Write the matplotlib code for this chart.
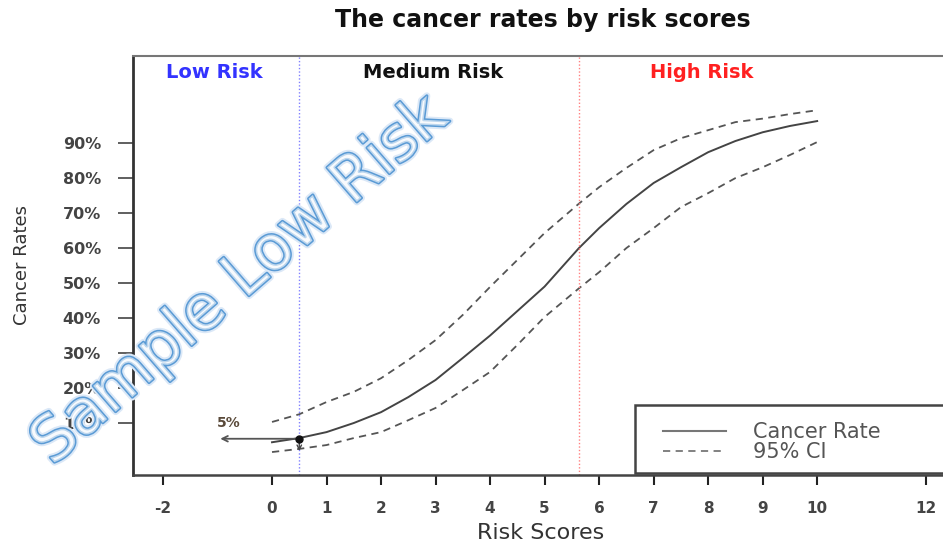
import matplotlib
matplotlib.use("Agg")
import matplotlib.pyplot as plt
import matplotlib.patheffects as pe
from matplotlib.patches import Rectangle
from matplotlib.lines import Line2D

# ---- data ----
scores = [0, 0.5, 1, 1.5, 2, 2.5, 3, 3.5, 4, 4.5, 5, 5.63, 6, 6.5, 7, 7.5, 8, 8.5, 9, 9.5, 10]
rate   = [0.045, 0.057, 0.074, 0.10, 0.131, 0.174, 0.223, 0.286, 0.35, 0.42, 0.49, 0.60,
          0.657, 0.726, 0.786, 0.831, 0.874, 0.906, 0.931, 0.949, 0.963]
upper  = [0.103, 0.125, 0.16, 0.189, 0.228, 0.28, 0.337, 0.409, 0.489, 0.566, 0.643, 0.727,
          0.774, 0.829, 0.88, 0.914, 0.937, 0.96, 0.97, 0.983, 0.994]
lower  = [0.017, 0.026, 0.037, 0.057, 0.074, 0.108, 0.143, 0.194, 0.246, 0.323, 0.403, 0.485,
          0.531, 0.60, 0.657, 0.717, 0.757, 0.80, 0.831, 0.866, 0.903]

x_ticks = [-2, 0, 1, 2, 3, 4, 5, 6, 7, 8, 9, 10, 12]
y_ticks = [0.1, 0.2, 0.3, 0.4, 0.5, 0.6, 0.7, 0.8, 0.9]
y_tick_labels = ["10%", "20%", "30%", "40%", "50%", "60%", "70%", "80%", "90%"]

low_cut, high_cut = 0.5, 5.63
point_x, point_y = 0.5, 0.055
arrow_end_x = -1.0
point_label = "5%"

regions = ["Low Risk", "Medium Risk", "High Risk"]
region_x = [-1.05, 2.95, 7.89]
region_colors = ["#3333ff", "#111111", "#ff2020"]

title = "The cancer rates by risk scores"
xlabel = "Risk Scores"
ylabel = "Cancer Rates"
legend_labels = ["Cancer Rate", "95% CI"]
watermark = "Sample Low Risk"

# ---- figure ----
W, H = 943, 547
fig = plt.figure(figsize=(W / 100, H / 100), dpi=100)
ax = fig.add_axes([133 / W, (H - 475) / H, (948 - 133) / W, (475 - 56) / H])
ax.set_xlim(-2.55, 12.40)
ax.set_ylim(-0.0486, 1.149)

solid_style = dict(color="#444444", lw=1.4, ls="-")
dash_style = dict(color="#555555", lw=1.3, ls=(0, (4, 3)))
ax.plot(scores, rate, **solid_style)
ax.plot(scores, upper, **dash_style)
ax.plot(scores, lower, **dash_style)

ax.axvline(low_cut, color="#8080ff", lw=1.0, ls=(0, (1, 1.5)))
ax.axvline(high_cut, color="#ff8080", lw=1.0, ls=(0, (1, 1.5)))

ax.annotate("", xy=(arrow_end_x, point_y), xytext=(point_x, point_y),
            arrowprops=dict(arrowstyle="->", color="#555555", lw=1.3))
ax.annotate("", xy=(point_x, 0.012), xytext=(point_x, point_y),
            arrowprops=dict(arrowstyle="->", color="#444444", lw=1.0,
                            mutation_scale=8))
ax.plot([point_x], [point_y], "o", color="#111111", ms=5, zorder=5)
ax.text(-0.8, 0.10, point_label, fontsize=10, fontweight="bold",
        color="#5a4a3a", ha="center", va="center")

for name, xx, cc in zip(regions, region_x, region_colors):
    ax.text(xx, 1.103, name, color=cc, fontsize=14, fontweight="bold",
            ha="center", va="center")

ax.set_xticks(x_ticks)
ax.set_xticklabels([str(t) for t in x_ticks])
ax.set_yticks(y_ticks)
ax.set_yticklabels(y_tick_labels)
ax.tick_params(axis="x", direction="out", length=7, width=1.5, color="#222222",
               pad=12, labelsize=11, labelcolor="#444444")
ax.tick_params(axis="y", direction="out", length=11, width=1.2, color="#444444",
               pad=12, labelsize=11.5, labelcolor="#444444")
for lab in ax.get_xticklabels() + ax.get_yticklabels():
    lab.set_fontweight("bold")

ax.spines["left"].set_color("#333333")
ax.spines["left"].set_linewidth(2)
ax.spines["bottom"].set_color("#444444")
ax.spines["bottom"].set_linewidth(1.8)
ax.spines["top"].set_color("#777777")
ax.spines["top"].set_linewidth(1.5)
ax.spines["right"].set_visible(False)

# legend box (extends past the right edge as in the reference)
box = Rectangle((635 / W, (H - 473) / H), (960 - 635) / W, (473 - 405) / H,
                transform=fig.transFigure, facecolor="white", edgecolor="#444444",
                lw=1.8, zorder=6)
fig.add_artist(box)
handles = [Line2D([], [], color="#777777", lw=1.5, ls="-"),
           Line2D([], [], color="#777777", lw=1.3, ls=(0, (4, 3)))]
leg = fig.legend(handles, legend_labels, loc="upper left",
                 bbox_to_anchor=(663 / W, 1 - 422 / H), bbox_transform=fig.transFigure,
                 fontsize=15, handlelength=3.0, handletextpad=1.3, borderpad=0,
                 labelspacing=0.0, borderaxespad=0, frameon=False)
leg.set_zorder(7)
for t in leg.get_texts():
    t.set_color("#555555")

fig.text(543 / W, 1 - 20 / H, title, fontsize=17, fontweight="bold",
         ha="center", va="center", color="#111111")
fig.text(541 / W, 1 - 533 / H, xlabel, fontsize=16, ha="center", va="center",
         color="#333333")
fig.text(22 / W, 1 - 265 / H, ylabel, fontsize=13, rotation=90, ha="center",
         va="center", color="#333333")

wm = fig.text(240 / W, 1 - 281 / H, watermark, fontsize=45, rotation=41,
              ha="center", va="center", color=(1, 1, 1, 0.6), zorder=10,
              rotation_mode="anchor")
wm.set_path_effects([pe.Stroke(linewidth=5, foreground="#dbe8f7"),
                     pe.Stroke(linewidth=2.2, foreground="#5b9bd5"),
                     pe.Normal()])

fig.savefig("out.png", dpi=100)
